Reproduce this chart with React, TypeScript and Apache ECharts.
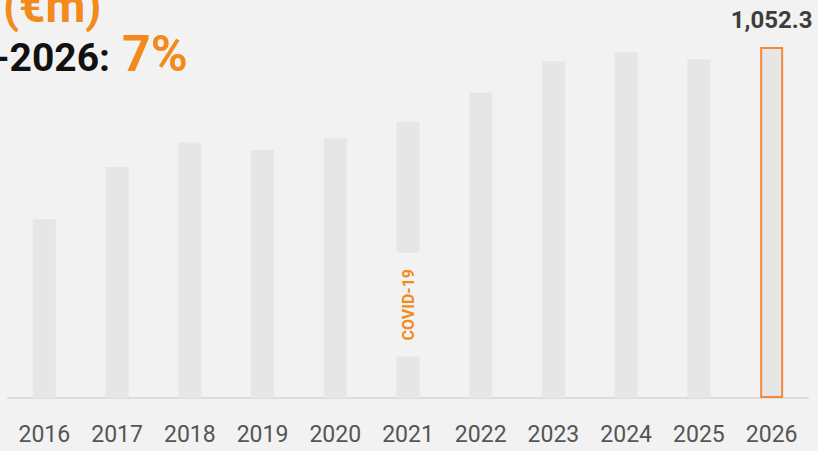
import React, { useEffect, useRef } from "react";
import * as echarts from "echarts";

const years = ["2016", "2017", "2018", "2019", "2020", "2021", "2022", "2023", "2024", "2025", "2026"];
const revenue = [536, 692, 766, 743, 778, 829, 915, 1009, 1037, 1015, 1052.3];
// COVID-19 break in the 2021 bar: [start, end] in €m
const covidYear = "2021";
const covidBreak = [124, 435];
const covidLabel = "COVID-19";
const highlightYear = "2026";
const titleUnit = "(€m)";
const titleCagr = "-2026:";
const cagrValue = "7%";

const ORANGE = "#F28A1C";
const BAR = "#e6e6e6";
const BG = "#f2f2f2";

export default function App() {
  const ref = useRef<HTMLDivElement>(null);
  useEffect(() => {
    if (!ref.current) return;
    const chart = echarts.init(ref.current, null, { renderer: "svg" });
    const covidIdx = years.indexOf(covidYear);
    const hiIdx = years.indexOf(highlightYear);

    const lower = revenue.map((v, i) => {
      const val = i === covidIdx ? covidBreak[0] : v;
      if (i === hiIdx) {
        return {
          value: val,
          itemStyle: { color: BAR, borderColor: "#F5883A", borderWidth: 2 },
          label: {
            show: true,
            position: "top",
            distance: 15,
            formatter: () => v.toLocaleString("en-US", { minimumFractionDigits: 1 }),
            fontFamily: "Roboto",
            fontWeight: "bold",
            fontSize: 24,
            color: "#3d3d3d",
          },
        };
      }
      return val;
    });
    const gap = revenue.map((v, i) => (i === covidIdx ? covidBreak[1] - covidBreak[0] : "-"));
    const upper = revenue.map((v, i) => (i === covidIdx ? v - covidBreak[1] : "-"));

    chart.setOption({
      animation: false,
      backgroundColor: BG,
      grid: { left: 8, right: 10, top: 31, bottom: 53 },
      xAxis: {
        type: "category",
        data: years,
        axisTick: { show: false },
        axisLine: { show: true, lineStyle: { color: "#dcdcdc", width: 2 } },
        axisLabel: { color: "#555555", fontSize: 23, fontFamily: "Roboto", margin: 25 },
      },
      yAxis: { type: "value", min: 0, max: 1100, show: false, splitLine: { show: false } },
      series: [
        {
          type: "bar",
          stack: "rev",
          data: lower,
          barWidth: 23,
          itemStyle: { color: BAR },
        },
        {
          type: "bar",
          stack: "rev",
          data: gap,
          barWidth: 23,
          itemStyle: { color: "rgba(0,0,0,0)" },
          label: {
            show: true,
            position: "inside",
            rotate: 90,
            formatter: covidLabel,
            color: ORANGE,
            fontFamily: "Roboto",
            fontWeight: "bold",
            fontSize: 16,
          },
        },
        {
          type: "bar",
          stack: "rev",
          data: upper,
          barWidth: 23,
          itemStyle: { color: BAR },
        },
      ],
      graphic: [
        {
          type: "text",
          x: 3,
          y: 6,
          style: {
            text: titleUnit,
            fill: ORANGE,
            fontFamily: "Roboto",
            fontWeight: "bold",
            fontSize: 46,
            align: "left",
            verticalAlign: "middle",
          },
        },
        {
          type: "text",
          x: 110,
          y: 58,
          style: {
            text: titleCagr,
            fill: "#111111",
            fontFamily: "Roboto",
            fontWeight: "bold",
            fontSize: 39,
            align: "right",
            verticalAlign: "middle",
          },
        },
        {
          type: "text",
          x: 122,
          y: 54,
          style: {
            text: cagrValue,
            fill: ORANGE,
            fontFamily: "Roboto",
            fontWeight: "bold",
            fontSize: 50,
            align: "left",
            verticalAlign: "middle",
          },
        },
      ],
    });
    return () => chart.dispose();
  }, []);
  return <div ref={ref} style={{ position: "fixed", left: 0, top: 0, width: 818, height: 451 }} />;
}
